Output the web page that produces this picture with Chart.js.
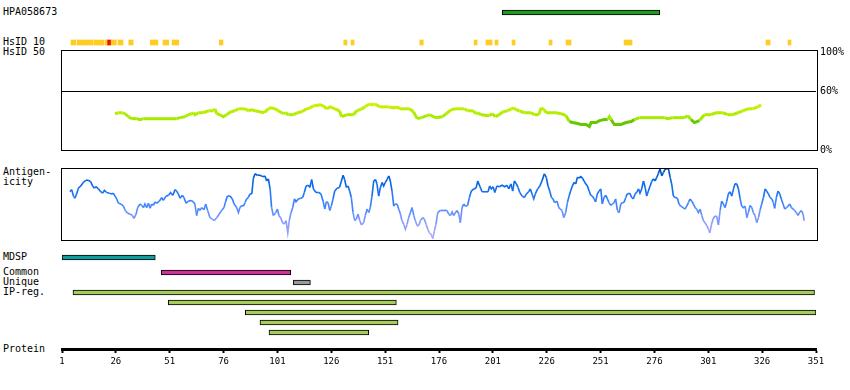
<!DOCTYPE html>
<html>
<head>
<meta charset="utf-8">
<script src="https://cdn.jsdelivr.net/npm/chart.js@4.4.1/dist/chart.umd.min.js"></script>
<style>
body { margin: 0; background: #fff; }
#wrap { position: relative; width: 850px; height: 390px; overflow: hidden; font-family: "DejaVu Sans Mono", monospace; font-size: 10px; color: #000; }
canvas { position: absolute; left: 0; }
.lbl { position: absolute; left: 3px; line-height: 10px; transform: translateY(-50%); white-space: nowrap; }
</style>
</head>
<body>
<div id="wrap">
  <div class="lbl" style="top:12px">HPA058673</div>
  <div class="lbl" style="top:42px">HsID 10</div>
  <div class="lbl" style="top:52px">HsID 50</div>
  <div class="lbl" style="top:172px">Antigen-</div>
  <div class="lbl" style="top:182px">icity</div>
  <div class="lbl" style="top:257px">MDSP</div>
  <div class="lbl" style="top:272px">Common</div>
  <div class="lbl" style="top:282px">Unique</div>
  <div class="lbl" style="top:292px">IP-reg.</div>
  <div class="lbl" style="top:349px">Protein</div>

  <canvas id="hpaChart" style="top:8px" width="850" height="9"></canvas>
  <canvas id="hsid10Chart" style="top:38px" width="850" height="9"></canvas>
  <canvas id="hsid50Chart" style="top:40px" width="850" height="120"></canvas>
  <canvas id="antigenChart" style="top:160px" width="850" height="90"></canvas>
  <canvas id="mdspChart" style="top:253px" width="850" height="9"></canvas>
  <canvas id="laneChart" style="top:267px" width="850" height="71"></canvas>
  <canvas id="axisChart" style="top:330px" width="850" height="60"></canvas>
</div>
<script>
// residue axis ticks
const proteinTicks = [1, 26, 51, 76, 101, 126, 151, 176, 201, 226, 251, 276, 301, 326, 351];
const pctTicks = [0, 60, 100];

// ranges (residue start, residue end)
const hpaRange = [205.4, 278.5];
const hsid10Marks = [[5.2, 7.4], [8, 15.4], [15.8, 20.5], [21, 21.9], [23.8, 26.2], [27, 29.3], [32, 34],
    [42, 45.5], [47.9, 50.5], [52.1, 55.2], [74, 75.7], [131.8, 133.3], [135.2, 136.6], [167.1, 168.7],
    [192.3, 193.7], [197.8, 200.6], [202, 203.4], [209.9, 211.3], [227.1, 228.5], [235, 237.3],
    [261.9, 265.6], [327.8, 329.7], [338, 339.4]];
const hsid10Red = [[21.9, 23.7]];
const mdspRange = [1, 44.3];
const commonRange = [47.1, 107.2];
const uniqueRange = [108.4, 116.3];
const ipRegions = [[6.1, 350.3], [50.3, 156.2], [86.1, 351], [92.9, 157], [97.1, 143.4]];

// HsID 50 identity (%)
const hsid50Pos = [25.6, 27.2, 29.2, 30.2, 31.8, 33.3, 35.7, 37.2, 38.8, 46.5, 54.2, 55.8, 58.1, 59.6, 61.2, 62.0,
    62.7, 64.3, 66.6, 68.9, 71.3, 72.0, 72.8, 74.4, 75.9, 77.4, 79.3, 81.3, 82.9, 86.0, 87.5, 89.1, 90.6, 92.9,
    94.8, 96.8, 97.9, 99.9, 101.4, 103.8, 104.8, 106.1, 108.4, 110.3, 112.3, 114.6, 116.1, 117.7, 120.8, 122.3,
    123.9, 125.4, 127.7, 129.8, 130.8, 133.2, 136.3, 137.8, 140.1, 141.7, 143.7, 144.8, 146.3, 148.6, 152.5,
    154.8, 156.4, 157.9, 162.5, 164.1, 165.9, 167.9, 170.3, 171.8, 174.2, 177.7, 179.3, 181.6, 183.9, 187.8,
    189.3, 192.0, 192.9, 194.0, 195.5, 199.4, 200.6, 202.2, 204.0, 205.6, 207.9, 209.5, 210.5, 211.8, 213.3,
    215.6, 218.7, 220.3, 222.3, 223.4, 224.9, 225.7, 230.3, 232.7, 235.0, 236.5, 238.1, 240.4, 241.9, 244.3,
    245.8, 246.6, 248.9, 250.5, 252.8, 254.3, 255.1, 255.9, 257.4, 260.5, 262.8, 265.2, 266.7, 269.0, 273.7,
    280.6, 282.2, 284.5, 289.9, 291.5, 293.0, 294.6, 296.9, 299.2, 302.3, 304.6, 307.7, 310.0, 312.4, 314.7,
    317.0, 319.3, 321.6, 324.0, 325.5];
const hsid50Val = [37, 38, 38, 37, 34, 32, 32, 31, 32, 32, 32, 33, 34, 36, 37, 38,
    36, 38, 38, 40, 40, 42, 37, 36, 34, 36, 39, 40, 42, 42, 40, 41, 40, 39,
    38, 42, 43, 42, 40, 37, 38, 36, 36, 38, 39, 42, 43, 45, 46, 45,
    42, 44, 42, 40, 34, 36, 36, 40, 42, 44, 47, 46, 47, 44, 44,
    43, 44, 42, 42, 39, 32, 33, 35, 36, 33, 34, 37, 41, 42, 42,
    40, 40, 37, 38, 36, 35, 37, 34, 36, 39, 40, 42, 43, 41, 40,
    38, 38, 36, 36, 43, 41, 38, 38, 37, 35, 29, 28, 27, 26, 26,
    24, 28, 28, 30, 31, 31, 34, 31, 26, 26, 28, 29, 31, 33, 33,
    33, 32, 33, 33, 35, 31, 28, 30, 36, 36, 38, 38, 36, 36, 38,
    40, 42, 42, 44, 46];

// antigenicity (relative, 0-100)
const antigenPos = [4.7, 5.5, 6.3, 7.0, 7.8, 8.6, 9.7, 10.9, 12.1, 13.2, 14.3, 15.2, 16.0, 16.8, 17.9, 19.0, 19.9,
    20.7, 21.7, 23.0, 24.1, 24.8, 25.6, 26.4, 27.2, 28.4, 29.5, 30.4, 31.5, 32.6, 33.7, 34.4, 35.4, 36.1, 37.2,
    38.0, 38.8, 39.5, 40.3, 41.1, 41.9, 42.6, 43.4, 44.2, 44.9, 46.2, 47.3, 48.0, 49.3, 50.4, 51.4, 52.4, 53.5,
    54.2, 55.0, 55.8, 56.9, 57.6, 58.6, 59.7, 60.9, 62.0, 62.7, 63.5, 64.3, 65.1, 65.8, 66.9, 67.7, 68.6, 69.7,
    70.8, 71.7, 72.8, 74.0, 75.1, 76.2, 77.0, 77.8, 79.0, 80.1, 80.9, 82.1, 82.9, 83.6, 84.4, 85.2, 86.0, 86.7,
    87.5, 88.3, 89.1, 89.8, 90.6, 91.7, 92.9, 94.2, 95.2, 96.0, 96.8, 97.6, 98.3, 99.1, 100.2, 101.0, 101.7,
    102.5, 103.4, 104.2, 105.0, 105.8, 106.5, 107.3, 108.1, 108.9, 109.6, 110.7, 111.8, 112.7, 113.5, 114.3,
    115.4, 116.1, 116.9, 117.7, 118.9, 120.2, 121.2, 122.2, 123.0, 123.7, 124.5, 125.3, 126.0, 126.8, 127.6,
    128.7, 129.8, 130.7, 131.5, 132.2, 133.0, 133.8, 134.5, 135.3, 136.1, 136.9, 137.6, 138.4, 139.2, 140.0,
    141.0, 141.8, 142.6, 143.4, 144.1, 144.9, 145.7, 146.5, 147.2, 148.0, 148.8, 149.6, 150.3, 151.1, 151.9,
    152.7, 153.4, 154.2, 155.0, 155.7, 156.5, 157.3, 158.1, 158.8, 159.6, 160.4, 161.2, 161.9, 162.7, 163.5,
    164.3, 165.0, 165.8, 166.6, 167.4, 168.4, 169.2, 170.0, 170.8, 171.5, 172.3, 173.1, 173.9, 174.6, 175.4,
    176.6, 178.2, 179.7, 180.5, 181.3, 182.1, 182.8, 183.6, 184.4, 185.2, 185.9, 186.7, 187.5, 188.2, 189.3,
    190.1, 191.0, 192.1, 193.2, 194.0, 194.9, 196.0, 197.5, 198.8, 199.5, 200.3, 201.1, 201.9, 202.9, 204.0,
    205.3, 206.5, 207.6, 208.4, 209.4, 210.2, 211.0, 211.9, 212.7, 213.5, 214.6, 215.6, 216.6, 217.6, 218.4,
    219.2, 220.0, 220.7, 221.8, 222.8, 223.8, 224.9, 225.8, 226.6, 227.4, 228.2, 228.9, 229.7, 230.8, 231.6,
    232.3, 233.1, 233.9, 234.8, 235.6, 236.4, 237.1, 237.9, 238.7, 239.5, 240.2, 241.0, 241.8, 242.6, 243.3,
    244.1, 244.9, 245.7, 246.4, 247.2, 248.0, 248.7, 249.5, 250.3, 251.1, 251.8, 252.6, 253.4, 254.2, 254.9,
    255.7, 256.5, 257.3, 258.0, 258.8, 259.6, 260.4, 261.1, 261.9, 262.7, 263.4, 264.5, 265.5, 266.2, 267.0,
    267.8, 268.6, 269.3, 270.1, 270.9, 271.7, 272.4, 273.2, 274.0, 274.7, 275.5, 276.3, 277.1, 277.8, 278.6,
    279.4, 280.2, 280.9, 281.7, 282.5, 283.3, 284.0, 284.8, 285.6, 286.7, 287.4, 288.2, 289.3, 290.2, 291.0,
    291.8, 292.5, 293.3, 294.1, 294.9, 295.6, 296.4, 297.2, 298.0, 298.7, 299.5, 300.3, 301.1, 301.7, 302.5,
    303.2, 304.0, 304.9, 305.7, 306.5, 307.2, 308.0, 308.8, 309.6, 310.3, 311.1, 311.9, 312.7, 313.4, 314.2,
    315.0, 315.8, 316.5, 317.3, 318.1, 318.9, 319.6, 320.4, 321.2, 321.9, 322.7, 323.5, 324.3, 325.0, 325.8,
    326.6, 327.4, 328.1, 328.9, 329.7, 330.5, 331.2, 331.8, 332.6, 333.4, 334.2, 334.9, 335.7, 336.5, 337.3,
    338.0, 338.8, 339.6, 340.4, 341.1, 341.9, 342.7, 343.5, 344.2, 345.0, 345.5];
const antigenVal = [67, 70, 61, 58, 64, 72, 75, 80, 83, 83, 81, 75, 72, 74, 71, 67, 65,
    69, 66, 65, 64, 65, 61, 57, 51, 50, 47, 41, 37, 36, 34, 30, 36, 45, 50,
    48, 45, 50, 45, 51, 44, 50, 48, 53, 51, 54, 59, 55, 61, 62, 66, 62, 70,
    68, 64, 58, 62, 59, 51, 54, 55, 53, 50, 34, 44, 41, 45, 42, 50, 41, 31,
    29, 27, 31, 36, 41, 45, 54, 61, 61, 57, 50, 45, 38, 45, 48, 47, 52, 57,
    59, 64, 64, 85, 92, 90, 90, 88, 89, 82, 85, 71, 45, 34, 38, 43, 34,
    31, 24, 22, 27, 10, 27, 38, 45, 57, 53, 57, 58, 59, 66, 75,
    76, 73, 84, 71, 66, 66, 64, 54, 43, 53, 52, 41, 47, 57, 68,
    72, 73, 82, 90, 84, 73, 75, 68, 59, 38, 27, 29, 36, 27, 21,
    24, 34, 43, 38, 45, 61, 82, 84, 78, 61, 73, 80, 75, 80, 84,
    89, 82, 68, 47, 50, 50, 43, 36, 27, 22, 15, 22, 31, 38, 45,
    34, 27, 20, 20, 27, 31, 29, 22, 15, 10, 8, 2, 13, 22, 38,
    41, 41, 41, 36, 34, 39, 34, 38, 41, 36, 24, 45, 50, 47, 48,
    59, 68, 71, 72, 82, 75, 67, 67, 67, 75, 71, 74, 66, 75, 74,
    76, 74, 76, 71, 78, 68, 82, 78, 73, 66, 61, 59, 64, 67, 71,
    64, 57, 64, 71, 75, 82, 92, 87, 75, 68, 59, 57, 52, 54, 45,
    43, 41, 31, 38, 52, 61, 68, 75, 80, 78, 87, 86, 88, 86, 82,
    78, 75, 68, 62, 61, 57, 53, 64, 68, 71, 50, 59, 62, 57, 52,
    48, 50, 52, 57, 41, 38, 50, 52, 52, 59, 64, 65, 59, 57, 64,
    66, 71, 65, 71, 82, 73, 61, 68, 75, 81, 85, 82, 87, 92, 99,
    89, 94, 98, 99, 99, 87, 78, 61, 59, 58, 50, 47, 45, 43, 47,
    52, 57, 54, 50, 45, 43, 38, 43, 34, 27, 24, 20, 15, 10, 22,
    29, 33, 33, 21, 41, 54, 50, 45, 54, 64, 67, 61, 71, 78, 78,
    71, 57, 47, 45, 47, 31, 38, 48, 45, 38, 34, 24, 31, 41, 50,
    59, 71, 68, 64, 59, 57, 52, 44, 59, 68, 64, 57, 50, 43, 45,
    47, 50, 45, 43, 41, 38, 34, 39, 41, 36, 27];

Chart.defaults.font.family = '"DejaVu Sans Mono", monospace';
Chart.defaults.color = '#000';

const sidePad = { left: 62, right: 34 };
const residueScale = { type: 'linear', min: 1, max: 351, display: false };
const quiet = { legend: { display: false }, tooltip: { enabled: false } };

function mix(a, b, t) {
    const pa = a.match(/\w\w/g).map(h => parseInt(h, 16));
    const pb = b.match(/\w\w/g).map(h => parseInt(h, 16));
    return 'rgb(' + pa.map((v, i) => Math.round(v + (pb[i] - v) * t)).join(',') + ')';
}

function greenFor(v) {
    if (v < 31.5) return '#66c800';
    const t = Math.min(1, (v - 31.5) / 15);
    return mix('a2ea00', 'ccf200', t);
}

const blueStops = [[0, 'b0a8ff'], [25, '8899ff'], [45, '4a88ff'], [65, '1a72f2'], [85, '0062e0'], [100, '004cb4']];
function blueFor(v) {
    for (let i = 1; i < blueStops.length; i++) {
        if (v <= blueStops[i][0]) {
            const [v0, c0] = blueStops[i - 1];
            const [v1, c1] = blueStops[i];
            return mix(c0, c1, (v - v0) / (v1 - v0));
        }
    }
    return '#' + blueStops[blueStops.length - 1][1];
}

const frame = {
    id: 'frame',
    afterDraw(chart) {
        const { ctx, chartArea: a } = chart;
        ctx.save();
        ctx.strokeStyle = '#000';
        ctx.lineWidth = 1;
        ctx.strokeRect(Math.round(a.left) - 0.5, Math.round(a.top) + 0.5, Math.round(a.right - a.left) + 2, Math.round(a.bottom - a.top));
        ctx.restore();
    }
};

function rangeBar(label, ranges, color, border, lanes) {
    return {
        label: label,
        data: ranges.map((r, i) => ({ x: r, y: Array.isArray(lanes) ? lanes[i] : lanes })),
        backgroundColor: color,
        borderColor: '#000',
        borderWidth: border,
        borderSkipped: false,
        barThickness: 5,
        grouped: false
    };
}

function trackChart(id, datasets, yMin, yMax, pad) {
    return new Chart(document.getElementById(id), {
        type: 'bar',
        data: { datasets: datasets },
        options: {
            indexAxis: 'y',
            responsive: false,
            animation: false,
            layout: { padding: Object.assign({ top: 0, bottom: 0 }, sidePad, pad || {}) },
            plugins: quiet,
            scales: {
                x: residueScale,
                y: { type: 'linear', min: yMin, max: yMax, reverse: true, offset: false, grid: { offset: false }, display: false }
            }
        }
    });
}

trackChart('hpaChart', [rangeBar('HPA058673', [hpaRange], '#229922', 1, 0)], -0.5, 0.5);
trackChart('hsid10Chart', [
    rangeBar('HsID 10', hsid10Marks, '#ffcc22', 0, 0),
    rangeBar('HsID 10 (high)', hsid10Red, '#e81000', 0, 0)
], -0.5, 0.5);
trackChart('mdspChart', [rangeBar('MDSP', [mdspRange], '#109c9c', 1, 0)], -0.5, 0.5);
trackChart('laneChart', [
    rangeBar('Common', [commonRange], '#cc3399', 1, 0),
    rangeBar('Unique', [uniqueRange], '#999999', 1, 1),
    rangeBar('IP-reg.', ipRegions, '#a6cc5e', 1, [2, 3, 4, 5, 6])
], -0.5, 6.5, { top: 0.5, bottom: 0.5 });

new Chart(document.getElementById('hsid50Chart'), {
    type: 'line',
    data: {
        datasets: [{
            label: 'HsID 50',
            data: hsid50Pos.map((p, i) => ({ x: p, y: hsid50Val[i] })),
            borderColor: '#b4f000',
            borderWidth: 3,
            pointRadius: 0,
            segment: { borderColor: c => greenFor((c.p0.parsed.y + c.p1.parsed.y) / 2) }
        }]
    },
    options: {
        responsive: false,
        animation: false,
        layout: { padding: { left: 62, right: 0, top: 8, bottom: 10 } },
        plugins: quiet,
        scales: {
            x: residueScale,
            y: {
                type: 'linear',
                position: 'right',
                min: 0,
                max: 102,
                afterFit: s => { s.width = 34; },
                afterBuildTicks: s => { s.ticks = pctTicks.map(v => ({ value: v })); },
                ticks: { callback: v => v + '%', font: { size: 10 }, padding: 4 },
                grid: { color: c => (c.tick && c.tick.value === 60 ? '#000' : 'rgba(0,0,0,0)'), drawTicks: false, lineWidth: 1 },
                border: { display: false }
            }
        }
    },
    plugins: [frame]
});

new Chart(document.getElementById('antigenChart'), {
    type: 'line',
    data: {
        datasets: [{
            label: 'Antigenicity',
            data: antigenPos.map((p, i) => ({ x: p, y: antigenVal[i] })),
            borderColor: '#1a72f2',
            borderWidth: 1.6,
            pointRadius: 0,
            segment: { borderColor: c => blueFor((c.p0.parsed.y + c.p1.parsed.y) / 2) }
        }]
    },
    options: {
        responsive: false,
        animation: false,
        layout: { padding: { left: 62, right: 34, top: 8, bottom: 10 } },
        plugins: quiet,
        scales: {
            x: residueScale,
            y: { type: 'linear', min: 0, max: 100, display: false }
        }
    },
    plugins: [frame]
});

new Chart(document.getElementById('axisChart'), {
    type: 'line',
    data: { datasets: [{ label: 'Protein', data: [] }] },
    options: {
        responsive: false,
        animation: false,
        layout: { padding: { left: 62, right: 34, top: 0, bottom: 0 } },
        plugins: quiet,
        scales: {
            x: {
                type: 'linear',
                position: 'bottom',
                min: 1,
                max: 351,
                afterFit: s => { s.height = 41; },
                afterBuildTicks: s => { s.ticks = proteinTicks.map(v => ({ value: v })); },
                ticks: { autoSkip: false, maxRotation: 0, font: { size: 9 }, padding: 3 },
                grid: { drawOnChartArea: false, tickLength: 4, tickWidth: 2, tickColor: '#000' },
                border: { display: true, color: '#000', width: 3 }
            },
            y: { display: false }
        }
    }
});
</script>
</body>
</html>
